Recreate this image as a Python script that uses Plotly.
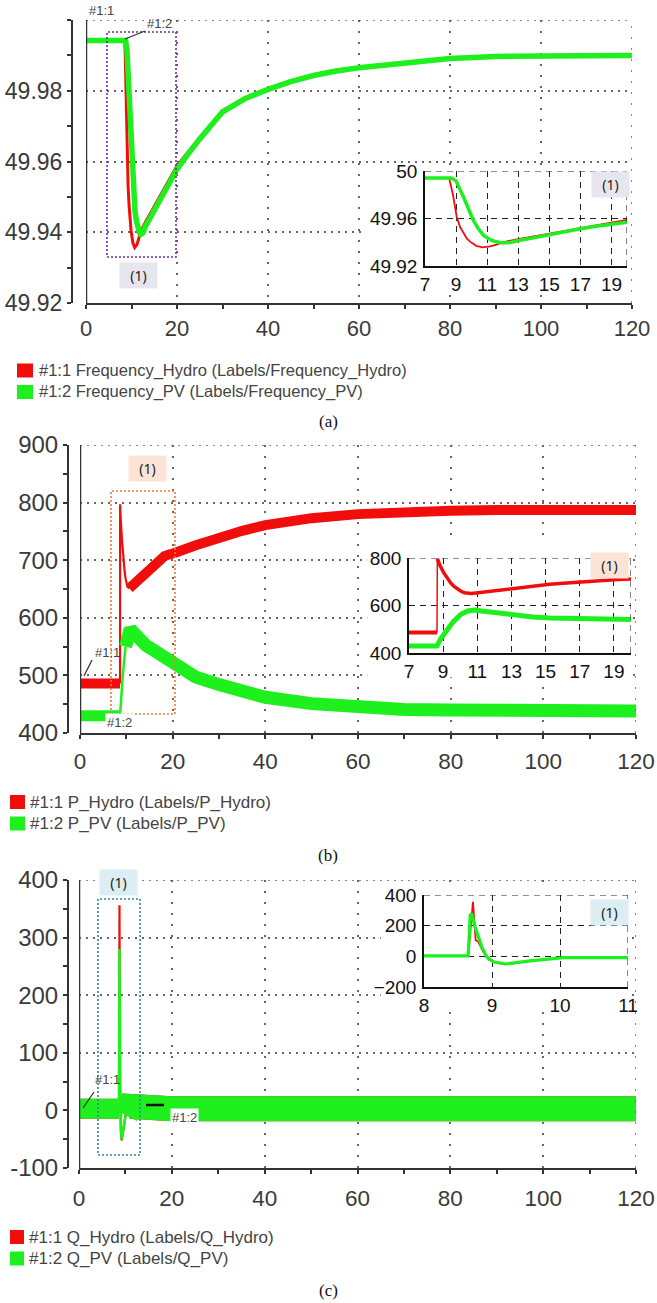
import plotly.graph_objects as go

# ---------------- data ----------------
# (a) frequency, Hz
freq_hydro_t = [0, 8.55, 8.8, 9.04, 9.25, 9.47, 9.7, 9.9, 10.3, 10.7, 11.2, 11.6, 12.05, 13, 14, 15, 16, 17, 18, 19, 20,
                22, 25, 30, 35, 40, 45, 50, 55, 60, 70, 80, 90, 100, 110, 120]
freq_hydro = [49.9942, 49.9942, 49.9800, 49.9615, 49.9530, 49.9475, 49.9430, 49.9405, 49.9370, 49.9357, 49.9365,
              49.9380, 49.9402, 49.9427, 49.9450, 49.9473, 49.9496, 49.9519, 49.9542, 49.9565, 49.9588,
              49.9620, 49.9668, 49.9744, 49.9780, 49.9806, 49.9828, 49.9845, 49.9858, 49.9866, 49.9880,
              49.9892, 49.9898, 49.9900, 49.9901, 49.9901]
freq_pv_t = [0, 8.7, 9.0, 9.2, 9.47, 9.8, 10.1, 10.4, 10.76, 11.1, 11.4, 11.8, 12.05, 12.5, 13, 14, 15, 16, 17, 18,
             19, 20, 22, 25, 30, 35, 40, 45, 50, 55, 60, 70, 80, 90, 100, 110, 120]
freq_pv = [49.9942, 49.9942, 49.9915, 49.9865, 49.9784, 49.9680, 49.9587, 49.9520, 49.9460, 49.9430, 49.9410,
           49.9398, 49.9394, 49.9398, 49.9415, 49.9438, 49.9465, 49.9490, 49.9513, 49.9535, 49.9557, 49.9578,
           49.9614, 49.9664, 49.9740, 49.9778, 49.9804, 49.9826, 49.9843, 49.9856, 49.9865, 49.9879, 49.9891,
           49.9897, 49.9899, 49.9900, 49.9900]

# (b) active power
p_hydro_t = [0, 8.64, 8.66, 8.8, 9.04, 9.24, 9.44, 9.64, 9.84, 10.04, 10.24, 10.64, 11.04, 12.24, 13.24, 14.24,
             15.24, 16.24, 17.24, 18.24, 19.24, 20.24, 25, 30, 35, 40, 50, 60, 70, 80, 90, 100, 110, 120]
p_hydro = [486, 486, 797, 770, 737, 713, 695, 680, 668, 660, 654, 651, 654, 665, 674, 682, 689, 695, 701, 707, 710,
           712, 726, 740, 751, 761, 773, 780, 784, 786, 787, 787, 787, 787]
p_pv_t = [0, 8.64, 8.84, 9.04, 9.24, 9.44, 9.64, 9.84, 10.04, 10.44, 10.84, 11.24, 12.24, 13.24, 14.24, 15.24,
          16.24, 17.24, 18.24, 19.24, 20.24, 25, 30, 35, 40, 50, 60, 70, 80, 90, 100, 110, 120]
p_pv = [430, 430, 458, 480, 500, 518, 535, 550, 563, 577, 581, 577, 567, 559, 552, 547, 542, 537, 531, 525, 520,
        497, 484, 471, 462, 451, 445, 441, 440, 439, 438, 438, 438]

# (c) reactive power
q_hydro_t = [0, 8.62, 8.65, 8.72, 8.76, 8.8, 8.87, 8.95, 9.07, 9.2, 9.56, 10.05, 11, 20, 40, 60, 80, 100, 120]
q_hydro = [3, 3, 3, 356, 105, 95, 29, -21, -43, -52, -30, -8, 7, 3, 3, 3, 3, 3, 3]
q_pv_t = [0, 8.62, 8.65, 8.68, 8.7, 8.75, 8.8, 8.85, 8.92, 9.02, 9.2, 9.56, 10.05, 11, 20, 40, 60, 80, 100, 120]
q_pv = [3, 3, 3, 269, 280, 193, 127, 62, -3, -36, -50, -30, -8, 7, 3, 3, 3, 3, 3, 3]

main_x_ticks = [0, 20, 40, 60, 80, 100, 120]
freq_ticks = [49.92, 49.94, 49.96, 49.98, 50.0]
freq_ticktext = ["49.92", "49.94", "49.96", "49.98", ""]
p_ticks = [400, 500, 600, 700, 800, 900]
q_ticks = [-100, 0, 100, 200, 300, 400]
inset_ab_xticks = [7, 9, 11, 13, 15, 17, 19]
inset_a_yticks = [49.92, 49.96, 50.0]
inset_a_yticktext = ["49.92", "49.96", "50"]
inset_b_yticks = [400, 600, 800]
inset_c_xticks = [8, 9, 10, 11]
inset_c_yticks = [-200, 0, 200, 400]

legend_a = ["#1:1 Frequency_Hydro (Labels/Frequency_Hydro)", "#1:2 Frequency_PV (Labels/Frequency_PV)"]
legend_b = ["#1:1 P_Hydro (Labels/P_Hydro)", "#1:2 P_PV (Labels/P_PV)"]
legend_c = ["#1:1 Q_Hydro (Labels/Q_Hydro)", "#1:2 Q_PV (Labels/Q_PV)"]

# ---------------- helpers ----------------
W, H = 657, 1303
RED = "#f20d0d"
GREEN = "#1ef01e"
GRID_H = dict(color="#666", width=1.6, dash="2px,5px")
GRID_V = dict(color="#666", width=1.6, dash="2px,9px")
INSET_GRID = dict(color="#222", width=1.1, dash="6px,5px")


def px(x):
    return x / W


def py(y):
    return 1 - y / H


def seg(t, v, lo=None, hi=None):
    pts = [(a, b) for a, b in zip(t, v) if (lo is None or a >= lo) and (hi is None or a <= hi)]
    return [p[0] for p in pts], [p[1] for p in pts]


fig = go.Figure()


def line(t, v, xa, ya, color, width):
    fig.add_trace(go.Scatter(x=t, y=v, xaxis=xa, yaxis=ya, mode="lines",
                             line=dict(color=color, width=width), showlegend=False, hoverinfo="skip"))


# (a) main
line(freq_hydro_t, freq_hydro, "x", "y", RED, 3)
line(freq_pv_t, freq_pv, "x", "y", GREEN, 5.5)
# (a) inset
line(freq_hydro_t, freq_hydro, "x2", "y2", RED, 1.8)
line(freq_pv_t, freq_pv, "x2", "y2", GREEN, 3.5)

# (b) main
for lo, hi, w in [(None, 8.64, 10), (8.64, 10.64, 2.2), (10.64, None, 10)]:
    tx, vy = seg(p_hydro_t, p_hydro, lo, hi)
    line(tx, vy, "x3", "y3", RED, w)
for lo, hi, w in [(None, 8.64, 11), (8.64, 9.84, 2.5), (9.84, None, 13)]:
    tx, vy = seg(p_pv_t, p_pv, lo, hi)
    line(tx, vy, "x3", "y3", GREEN, w)
# (b) inset
for lo, hi, w in [(None, 8.64, 4), (8.64, 8.66, 1.5), (8.66, None, 3.5)]:
    tx, vy = seg(p_hydro_t, p_hydro, lo, hi)
    line(tx, vy, "x4", "y4", RED, w)
line(p_pv_t, p_pv, "x4", "y4", GREEN, 5)

# (c) main
for lo, hi, w in [(None, 8.62, 20), (8.62, 10.05, 2.2), (10.05, None, 25)]:
    tx, vy = seg(q_hydro_t, q_hydro, lo, hi)
    line(tx, vy, "x5", "y5", RED, w)
for lo, hi, w in [(None, 8.62, 20), (8.62, 10.05, 2.6), (10.05, None, 25)]:
    tx, vy = seg(q_pv_t, q_pv, lo, hi)
    line(tx, vy, "x5", "y5", GREEN, w)
# (c) inset
line(q_hydro_t, q_hydro, "x6", "y6", RED, 1.8)
line(q_pv_t, q_pv, "x6", "y6", GREEN, 3.2)

# ---------------- axes ----------------
TICKFONT = dict(family="Liberation Sans, Arial", size=22, color="#3a3a3a")
INSETFONT = dict(family="Liberation Sans, Arial", size=19, color="#111")


def main_x(left, right, anchor, standoff, size):
    return dict(domain=[px(left), px(right)], anchor=anchor, range=[0, 120], automargin=False,
                tickmode="array", tickvals=main_x_ticks, ticklabeloverflow="allow",
                showline=True, linecolor="#333", linewidth=2,
                ticks="outside", ticklen=4, tickwidth=1.5, tickcolor="#333",
                minor=dict(tickmode="linear", tick0=0, dtick=10, ticks="outside", ticklen=4,
                           tickwidth=1.5, tickcolor="#333", showgrid=False),
                showgrid=True, gridcolor=GRID_V["color"], gridwidth=GRID_V["width"], griddash=GRID_V["dash"],
                zeroline=False, ticklabelstandoff=standoff,
                tickfont=dict(TICKFONT, size=size))


def main_y(top, bottom, pos, rng, tvals, ttext, minor_dtick, size):
    return dict(domain=[py(bottom), py(top)], anchor="free", position=px(pos), range=rng, automargin=False,
                tickmode="array", tickvals=tvals, ticktext=ttext, ticklabeloverflow="allow",
                showline=True, linecolor="#333", linewidth=2,
                ticks="outside", ticklen=4, tickwidth=1.5, tickcolor="#333",
                minor=dict(tickmode="linear", tick0=rng[0], dtick=minor_dtick, ticks="outside", ticklen=4,
                           tickwidth=1.5, tickcolor="#333", showgrid=False),
                showgrid=True, gridcolor=GRID_H["color"], gridwidth=GRID_H["width"], griddash=GRID_H["dash"],
                zeroline=False, tickfont=dict(TICKFONT, size=size))


def inset_x(left, right, anchor, rng, tvals):
    return dict(domain=[px(left), px(right)], anchor=anchor, range=rng, tickmode="array", tickvals=tvals,
                automargin=False, ticklabeloverflow="allow",
                showline=True, linecolor="#111", linewidth=1.5, ticks="",
                showgrid=True, gridcolor=INSET_GRID["color"], gridwidth=INSET_GRID["width"],
                griddash=INSET_GRID["dash"], zeroline=False, tickfont=INSETFONT)


def inset_y(top, bottom, anchor, rng, tvals, ttext=None):
    d = dict(domain=[py(bottom), py(top)], anchor=anchor, range=rng, tickmode="array", tickvals=tvals,
             automargin=False, ticklabeloverflow="allow",
             showline=True, linecolor="#111", linewidth=1.5, ticks="",
             showgrid=True, gridcolor=INSET_GRID["color"], gridwidth=INSET_GRID["width"],
             griddash=INSET_GRID["dash"], zeroline=False, tickfont=INSETFONT, ticklabelstandoff=2)
    if ttext is not None:
        d["ticktext"] = ttext
    return d


fig.update_layout(
    template="none",
    width=W, height=H, margin=dict(l=0, r=0, t=0, b=0, pad=0, autoexpand=False),
    plot_bgcolor="white", paper_bgcolor="white", showlegend=False,
    xaxis=main_x(86, 632, "y", 1, 22),
    yaxis=main_y(20, 303, 72, [49.92, 50.0], freq_ticks, freq_ticktext, 0.01, 23),
    xaxis2=inset_x(425, 627, "y2", [7, 20], inset_ab_xticks),
    yaxis2=inset_y(171, 266, "x2", [49.92, 50.0], inset_a_yticks, inset_a_yticktext),
    xaxis3=main_x(80, 636, "y3", 3, 22.5),
    yaxis3=main_y(445, 733, 68, [400, 900], p_ticks, [str(v) for v in p_ticks], 50, 24),
    xaxis4=inset_x(409, 631, "y4", [7, 20], inset_ab_xticks),
    yaxis4=inset_y(558, 653, "x4", [400, 800], inset_b_yticks),
    xaxis5=main_x(79, 636, "y5", 5, 22.5),
    yaxis5=main_y(880, 1168, 68, [-100, 400], q_ticks, [str(v) for v in q_ticks], 50, 24),
    xaxis6=inset_x(424, 628, "y6", [8, 11], inset_c_xticks),
    yaxis6=inset_y(895, 987, "x6", [-200, 400], inset_c_yticks),
)

shapes = []
# grid lines lying on the plot edges (plotly drops grid lines at the range ends)
for xr, yr, ytop in [("x", "y", 50.0), ("x3", "y3", 900), ("x5", "y5", 400)]:
    shapes.append(dict(type="line", xref=xr + " domain", yref=yr, x0=0, x1=1, y0=ytop, y1=ytop, line=GRID_H))
    shapes.append(dict(type="line", xref=xr, yref=yr + " domain", x0=120, x1=120, y0=0, y1=1, line=GRID_V))
for xr, yr, ytop, xright in [("x2", "y2", 50.0, 20), ("x4", "y4", 800, 20), ("x6", "y6", 400, 11)]:
    shapes.append(dict(type="line", xref=xr + " domain", yref=yr, x0=0, x1=1, y0=ytop, y1=ytop, line=INSET_GRID))
    shapes.append(dict(type="line", xref=xr, yref=yr + " domain", x0=xright, x1=xright, y0=0, y1=1,
                       line=INSET_GRID))
# vertical line at t=0 in main plots
for xr, yr in [("x", "y"), ("x3", "y3"), ("x5", "y5")]:
    shapes.append(dict(type="line", xref=xr, yref=yr + " domain", x0=0, x1=0, y0=0, y1=1,
                       line=dict(color="#333", width=2.5)))
# white backgrounds for the insets (cover the main grid)
shapes.append(dict(type="rect", xref="x", yref="y", x0=61.5, x1=119.4, y0=49.9235, y1=49.9585,
                   fillcolor="white", line=dict(width=0), layer="between"))
shapes.append(dict(type="rect", xref="x3", yref="y3", x0=62, x1=119, y0=497, y1=735,
                   fillcolor="white", line=dict(width=0), layer="between"))
shapes.append(dict(type="rect", xref="x5", yref="y5", x0=65, x1=118.5, y0=174, y1=391,
                   fillcolor="white", line=dict(width=0), layer="between"))
# dotted zoom boxes
for (x0, y0, x1, y1), col in [((107, 32, 176, 257), "#7030a0"), ((111, 491, 175, 714), "#ed7d31"),
                              ((98, 899, 140, 1155), "#31859c")]:
    shapes.append(dict(type="rect", xref="paper", yref="paper", x0=px(x0), x1=px(x1), y0=py(y1), y1=py(y0),
                       line=dict(color=col, width=1.6, dash="2px,2px"), layer="above"))
# leader lines
for (x0, y0, x1, y1), w, col in [((125, 39, 145, 31), 1.2, "#333"), ((92, 660, 84, 676), 1.2, "#333"),
                                 ((94, 1092, 83, 1108), 1.2, "#333"), ((146, 1105, 164, 1105), 2.5, "#111")]:
    shapes.append(dict(type="line", xref="paper", yref="paper", x0=px(x0), x1=px(x1), y0=py(y0), y1=py(y1),
                       line=dict(color=col, width=w)))
# legend squares
for (x0, x1, yc), cols in [((17, 33, 370.5), (RED, GREEN)), ((10, 25, 802), (RED, GREEN)),
                           ((10, 24, 1237), (RED, GREEN))]:
    for i, c in enumerate(cols):
        y = yc + i * 21.5
        shapes.append(dict(type="rect", xref="paper", yref="paper", x0=px(x0), x1=px(x1),
                           y0=py(y + 7), y1=py(y - 7), fillcolor=c, line=dict(width=0)))
fig.update_layout(shapes=shapes)

ann = []
C = dict(xref="paper", yref="paper", showarrow=False, xanchor="center", yanchor="middle")
# "(1)" label boxes
for (xc, yc), bg in [((138.5, 275), "#e7e6ef"), ((610, 184.5), "#e7e6ef"), ((147.5, 469), "#fbe4d5"),
                     ((609.5, 565), "#fbe4d5"), ((118, 882.5), "#dbeef4"), ((609, 912), "#dbeef4")]:
    ann.append(dict(C, x=px(xc), y=py(yc), text="(1)",
                    width=35, height=23, bgcolor=bg, align="center", valign="middle",
                    font=dict(family="Noto Sans, Open Sans", size=14, color="#222")))
# channel tags
for (xc, yc), txt, bg in [((101, 10), "#1:1", None), ((159, 24), "#1:2", None), ((107, 652), "#1:1", None),
                          ((119, 722), "#1:2", "white"), ((107, 1079), "#1:1", None),
                          ((184, 1117), "#1:2", "white")]:
    a = dict(C, x=px(xc), y=py(yc), text=txt,
             font=dict(family="Liberation Sans, Arial", size=13, color="#444"))
    if bg:
        a["bgcolor"] = bg
    ann.append(a)
# legend texts
for (xl, yc, fs), texts in [((37, 370, 16.5), legend_a), ((28, 802, 17), legend_b), ((27, 1237, 17), legend_c)]:
    for i, t in enumerate(texts):
        ann.append(dict(C, x=px(xl), y=py(yc + i * 21.5), text=t, xanchor="left",
                        font=dict(family="Liberation Sans, Arial", size=fs, color="#444")))
# captions
for yc, t in [(421, "(a)"), (855, "(b)"), (1290, "(c)")]:
    ann.append(dict(C, x=px(328), y=py(yc), text=t,
                    font=dict(family="Liberation Serif, Times New Roman", size=17, color="#111")))
fig.update_layout(annotations=ann)

# the page body has a default 8px margin; remove it so the figure fills the window exactly
fig.write_html("out.html", config={"displayModeBar": False},
               post_script="document.body.style.margin='0px';")
